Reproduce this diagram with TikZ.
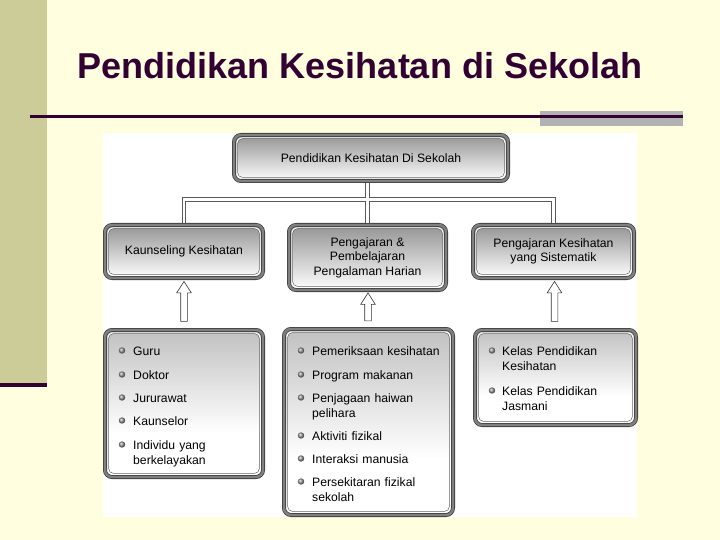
\documentclass[tikz,border=0pt]{standalone}
\usepackage{fontspec}
\setmainfont{Liberation Sans}
\usetikzlibrary{shapes.arrows}
\definecolor{latar}{HTML}{FFFFE0}
\definecolor{jalur}{HTML}{CCCC99}
\definecolor{ungu}{HTML}{330033}
\pgfdeclareverticalshading{pudar}{100bp}{color(0bp)=(white); color(40bp)=(white); color(100bp)=(black!42)}

\begin{document}
\begin{tikzpicture}[x=1pt, y=-1pt,
	kotak/.style={draw=black!75, line width=0.8pt, double=black!50, double distance=2.4pt,
		rounded corners=7pt, top color=black!42, bottom color=white, align=center,
		inner sep=0pt, font=\fontsize{12.2}{14.5}\selectfont,
		path picture={
			\draw[white, line width=1.2pt, rounded corners=5pt] ([shift={(2.9pt,2.9pt)}]path picture bounding box.south west) rectangle ([shift={(-2.9pt,-2.9pt)}]path picture bounding box.north east);
			\draw[black!60, line width=0.5pt, rounded corners=4.5pt] ([shift={(3.7pt,3.7pt)}]path picture bounding box.south west) rectangle ([shift={(-3.7pt,-3.7pt)}]path picture bounding box.north east);}},
	senarai/.style={kotak, shading=pudar},
	panah/.style={single arrow, draw=black!80, fill=white, line width=0.6pt, minimum width=14pt,
		single arrow head extend=4pt, single arrow head indent=0pt, single arrow tip angle=65,
		inner sep=3pt, shape border rotate=90},
	butir/.style={anchor=base west, align=left, text width=150pt, inner sep=0pt, font=\fontsize{12.2}{15}\selectfont},
	bola/.style={ball color=gray!85}]
	\useasboundingbox (0,0) rectangle (720,540);
	% latar slaid
	\fill[latar] (0,0) rectangle (720,540);
	\fill[jalur] (0,0) rectangle (47,383);
	\fill[ungu] (0,383) rectangle (47,387);
	\fill[gray!60] (540,111) rectangle (683,126);
	\draw[ungu, line width=3pt] (30,117) -- (683,117);
	\fill[white] (103,133) rectangle (637,517);
	\node[anchor=base, text=ungu, font=\bfseries\fontsize{36}{40}\selectfont] (tajuk) at (360,79) {Pendidikan Kesihatan di Sekolah};
	
	% kotak utama
	\node[kotak, minimum width=274pt, minimum height=46pt] (atas) at (371,158) {Pendidikan Kesihatan Di Sekolah};
	\node[kotak, minimum width=158pt, minimum height=53pt] (kaun) at (184,251.5) {Kaunseling Kesihatan};
	\node[kotak, minimum width=157pt, minimum height=65pt] (peng) at (367.5,257.5) {Pengajaran \&\\Pembelajaran\\Pengalaman Harian};
	\node[kotak, minimum width=161pt, minimum height=53pt] (sis) at (553.5,251.5) {Pengajaran Kesihatan\\yang Sistematik};
	
	% kotak senarai
	\node[senarai, minimum width=158pt, minimum height=147pt] (sgur) at (184,403.5) {};
	\node[senarai, minimum width=169pt, minimum height=186pt] (saktv) at (368.5,422) {};
	\node[senarai, minimum width=161pt, minimum height=95pt] (skls) at (555.5,377.5) {};
	
	% penyambung
	\foreach \tebal/\warna in {4.4pt/black!65, 2.4pt/white} {
		\draw[line width=\tebal, \warna, shorten <=2pt, shorten >=2pt] (kaun.north) -- ++(0,-25) -| (sis.north);
		\draw[line width=\tebal, \warna, shorten <=2pt, shorten >=2pt] (atas.south -| peng.north) -- (peng.north);
	}
	\path (sgur.north) -- (kaun.south) node[midway, panah, minimum height=40pt] (p1) {};
	\path (saktv.north) -- (peng.south) node[midway, panah, minimum height=28pt] (p2) {};
	\path (skls.north) -- (sis.south) node[midway, panah, minimum height=40pt] (p3) {};
	
	% isi senarai
	\foreach \teks/\yy [count=\i] in {Guru/355, Doktor/379, Jururawat/402, Kaunselor/425, {Individu yang\\berkelayakan}/449} {
		\node[butir] (g\i) at (133,\yy) {\teks};
		\shade[bola] ([xshift=-11pt, yshift=4.5pt]g\i.base west) circle (3.2pt);
	}
	\foreach \teks/\yy [count=\i] in {Pemeriksaan kesihatan/355, Program makanan/379, {Penjagaan haiwan\\pelihara}/402, Aktiviti fizikal/440, Interaksi manusia/463, {Persekitaran fizikal\\sekolah}/486} {
		\node[butir] (a\i) at (312,\yy) {\teks};
		\shade[bola] ([xshift=-11pt, yshift=4.5pt]a\i.base west) circle (3.2pt);
	}
	\foreach \teks/\yy [count=\i] in {{Kelas Pendidikan\\Kesihatan}/355, {Kelas Pendidikan\\Jasmani}/395} {
		\node[butir] (k\i) at (502,\yy) {\teks};
		\shade[bola] ([xshift=-10pt, yshift=4.5pt]k\i.base west) circle (3.2pt);
	}
\end{tikzpicture}
\end{document}
